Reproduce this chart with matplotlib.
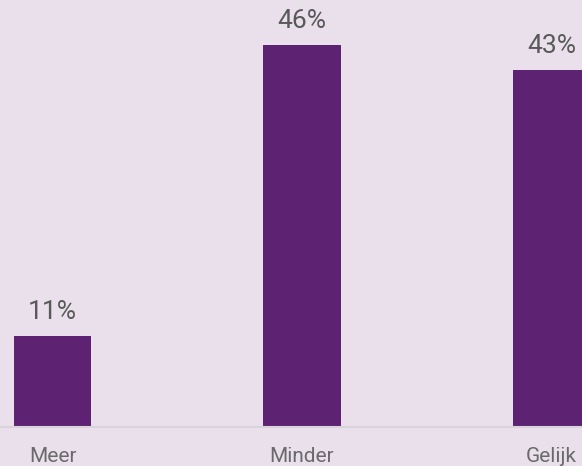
import matplotlib
import matplotlib.pyplot as plt

matplotlib.use('Agg')

# Chart data
categories = ['Meer', 'Minder', 'Gelijk']
values = [11, 46, 43]
value_labels = ['11%', '46%', '43%']

bg_color = '#e9e0ec'
bar_color = '#5d2372'

plt.rcParams['font.family'] = ['Roboto', 'DejaVu Sans']

fig = plt.figure(figsize=(5.82, 4.66), dpi=100)
fig.patch.set_facecolor(bg_color)
ax = fig.add_axes([0, 39 / 466, 1, 427 / 466])
ax.set_facecolor(bg_color)

x = list(range(len(categories)))
ax.bar(x, values, width=0.31, color=bar_color, zorder=2)

# Value labels above bars
for xi, v, lab in zip(x, values, value_labels):
    ax.annotate(lab, (xi, v), xytext=(0, 17), textcoords='offset pixels',
                ha='center', va='baseline', fontsize=19, color='#595959')

# Category labels below the axis line
for xi, cat in zip(x, categories):
    ax.annotate(cat, (xi, 0), xytext=(0, -35), textcoords='offset pixels',
                ha='center', va='baseline', fontsize=15, color='#6a6a6a',
                annotation_clip=False)

ax.set_xlim(-52.5 / 249.5, (582 - 52.5) / 249.5)
ax.set_ylim(0, 427 / 8.3)

ax.set_xticks([])
ax.set_yticks([])

for side in ['top', 'right', 'left']:
    ax.spines[side].set_visible(False)
ax.spines['bottom'].set_color('#d9d4da')
ax.spines['bottom'].set_linewidth(1.5)

fig.savefig('out.png', dpi=100, facecolor=bg_color)
